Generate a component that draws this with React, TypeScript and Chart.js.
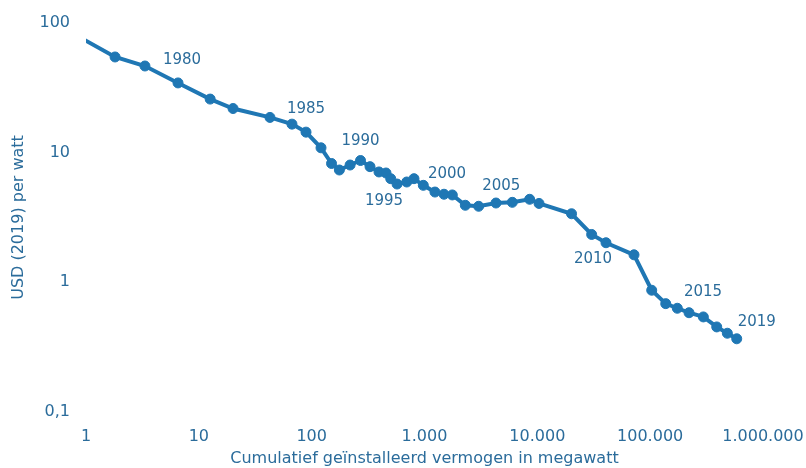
import React, { useEffect, useRef } from "react";
import { Chart, registerables } from "chart.js";

Chart.register(...registerables);

const years = [
  1977, 1978, 1979, 1980, 1981, 1982, 1983, 1984, 1985, 1986, 1987, 1988, 1989,
  1990, 1991, 1992, 1993, 1994, 1995, 1996, 1997, 1998, 1999, 2000, 2001, 2002,
  2003, 2004, 2005, 2006, 2007, 2008, 2009, 2010, 2011, 2012, 2013, 2014, 2015,
  2016, 2017, 2018, 2019,
];

// cumulative installed capacity (MW)
const capacityMW = [
  0.5, 1.81, 3.33, 6.54, 12.6, 20.1, 42.7, 66.9, 89.1, 121, 150, 176, 219, 271,
  329, 395, 456, 502, 571, 696, 807, 976, 1238, 1489, 1764, 2300, 3020, 4300,
  6000, 8550, 10350, 20100, 30300, 40600, 71900, 103200, 137400, 174000,
  221000, 296000, 389000, 483000, 585000,
];

// price, USD (2019) per watt
const priceUSD = [
  102, 54.7, 46.6, 34.5, 25.9, 21.9, 18.7, 16.6, 14.4, 10.9, 8.25, 7.35, 8.03,
  8.7, 7.8, 7.1, 6.97, 6.3, 5.73, 5.94, 6.3, 5.6, 4.97, 4.78, 4.72, 3.93, 3.86,
  4.09, 4.14, 4.37, 4.06, 3.38, 2.34, 2.02, 1.63, 0.869, 0.685, 0.631, 0.583,
  0.541, 0.453, 0.405, 0.367,
];

const labelledYears = [1980, 1985, 1990, 1995, 2000, 2005, 2010, 2015, 2019];

const xTickValues = [1, 10, 100, 1000, 10000, 100000, 1000000];
const xTickLabels = ["1", "10", "100", "1.000", "10.000", "100.000", "1.000.000"];
const yTickValues = [0.1, 1, 10, 100];
const yTickLabels = ["0,1", "1", "10", "100"];

const xTitle = "Cumulatief geïnstalleerd vermogen in megawatt";
const yTitle = "USD (2019) per watt";

// label offsets (style) relative to point centre
const labelOffsets: Record<number, [number, number]> = {
  1980: [4, -23],
  1985: [0, -23],
  1990: [0, -19],
  1995: [-13, 17],
  2000: [3, -20],
  2005: [-11, -16],
  2010: [-13, 16],
  2015: [14, -21],
  2019: [20, -17],
};

const TEXT = "#2b6c9b";
const LINE = "#1f77b4";
const FONT = "'DejaVu Sans', Verdana, sans-serif";

const yearLabelPlugin = {
  id: "yearLabels",
  afterDatasetsDraw(chart: any) {
    const meta = chart.getDatasetMeta(0);
    const ctx = chart.ctx;
    ctx.save();
    ctx.font = `15px ${FONT}`;
    ctx.fillStyle = TEXT;
    ctx.textAlign = "center";
    ctx.textBaseline = "middle";
    labelledYears.forEach((yr) => {
      const i = years.indexOf(yr);
      if (i < 0) return;
      const el = meta.data[i];
      const [dx, dy] = labelOffsets[yr] || [0, -20];
      ctx.fillText(String(yr), el.x + dx, el.y + dy);
    });
    ctx.restore();
  },
};

export default function App() {
  const ref = useRef<HTMLCanvasElement>(null);

  useEffect(() => {
    if (!ref.current) return;
    const data = capacityMW.map((x, i) => ({ x, y: priceUSD[i] }));
    const chart = new Chart(ref.current, {
      type: "line",
      data: {
        datasets: [
          {
            data,
            borderColor: LINE,
            backgroundColor: LINE,
            borderWidth: 4,
            pointRadius: 5,
            pointBorderWidth: 1,
            pointBackgroundColor: LINE,
            pointBorderColor: LINE,
            tension: 0,
            fill: false,
          },
        ],
      },
      options: {
        responsive: false,
        animation: false,
        layout: { padding: { left: 0, right: 43, top: 23, bottom: 0 } },
        plugins: {
          legend: { display: false },
          tooltip: { enabled: false },
        },
        scales: {
          x: {
            type: "logarithmic",
            min: 1,
            max: 1000000,
            grid: { display: false, drawTicks: false },
            border: { display: false },
            afterBuildTicks: (s: any) => {
              s.ticks = xTickValues.map((v) => ({ value: v }));
            },
            afterFit: (s: any) => {
              s.height = 56;
              s.paddingLeft = 0;
              s.paddingRight = 0;
            },
            ticks: {
              autoSkip: false,
              maxRotation: 0,
              padding: 15,
              color: TEXT,
              font: { family: FONT, size: 16 },
              callback: (_v: any, i: number) => xTickLabels[i],
            },
            title: {
              display: true,
              text: xTitle,
              color: TEXT,
              font: { family: FONT, size: 16 },
              padding: { top: 0, bottom: 0 },
            },
          },
          y: {
            type: "logarithmic",
            min: 0.1,
            max: 100,
            grid: { display: false, drawTicks: false },
            border: { display: false },
            afterBuildTicks: (s: any) => {
              s.ticks = yTickValues.map((v) => ({ value: v }));
            },
            afterFit: (s: any) => {
              s.width = 86;
              s.paddingTop = 0;
              s.paddingBottom = 0;
            },
            ticks: {
              autoSkip: false,
              padding: 16,
              color: TEXT,
              font: { family: FONT, size: 16 },
              callback: (_v: any, i: number) => yTickLabels[i],
            },
            title: {
              display: true,
              text: yTitle,
              color: TEXT,
              font: { family: FONT, size: 16 },
              padding: { top: 9, bottom: 0 },
            },
          },
        },
      },
      plugins: [yearLabelPlugin],
    });
    return () => chart.destroy();
  }, []);

  return (
    <div style={{ position: "fixed", left: 0, top: 0, width: 806, height: 468, background: "#fff" }}>
      <canvas ref={ref} width={806} height={468} />
    </div>
  );
}
